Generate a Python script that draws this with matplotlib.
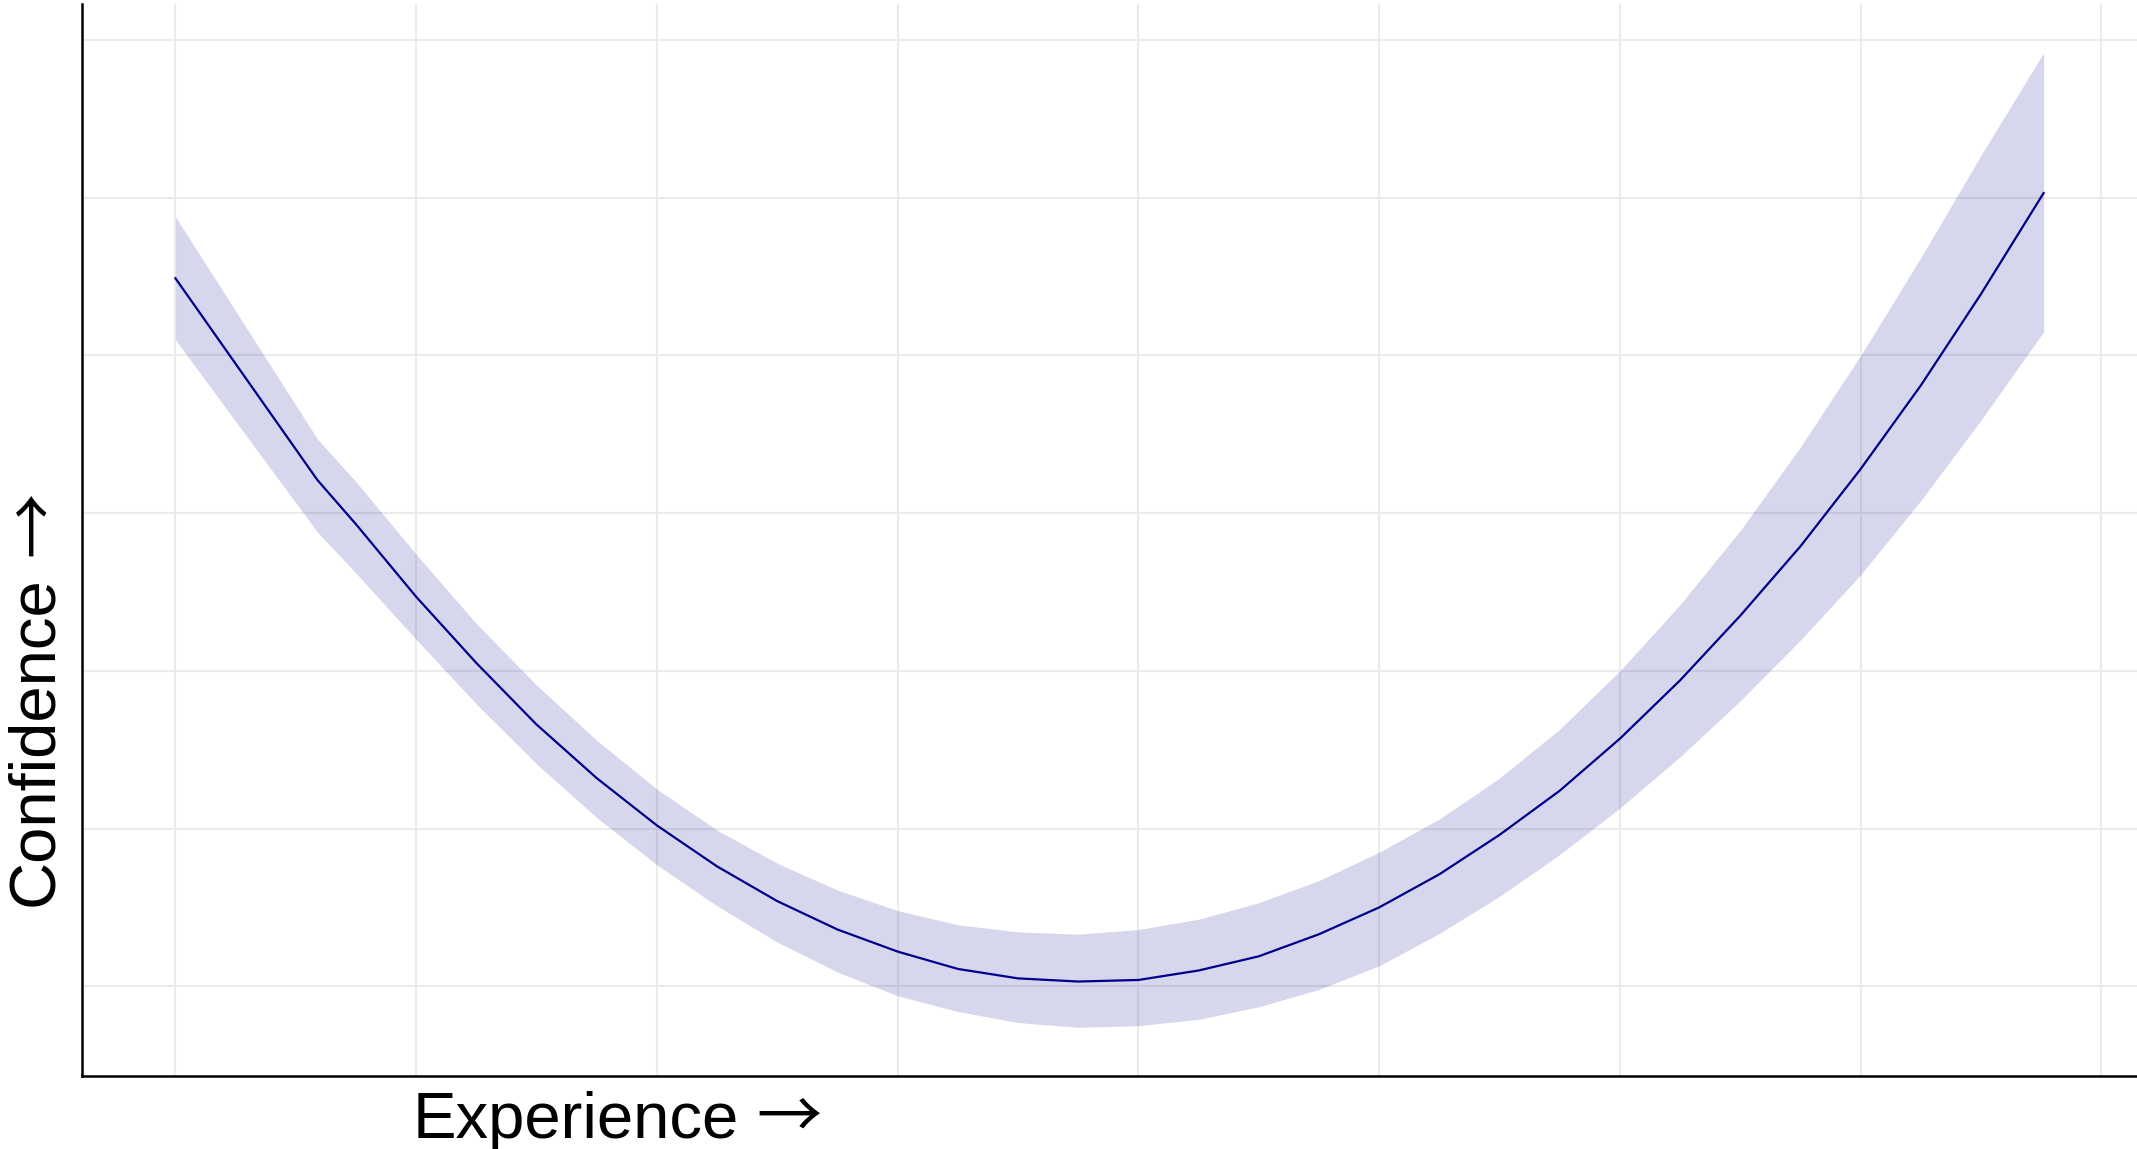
import matplotlib
matplotlib.use("Agg")
import matplotlib.pyplot as plt
import numpy as np

# fitted curve (experience vs confidence) with its confidence band, arbitrary units
exp_x = [0.0, 0.59, 0.75, 1.0, 1.25, 1.5, 1.75, 2.0, 2.25, 2.5, 2.75, 3.0, 3.25, 3.5, 3.75, 4.0,
         4.25, 4.5, 4.75, 5.0, 5.25, 5.5, 5.75, 6.0, 6.25, 6.5, 6.75, 7.0, 7.25, 7.5, 7.76]
conf_fit = [5.49, 4.21, 3.93, 3.47, 3.05, 2.66, 2.32, 2.02, 1.76, 1.54, 1.36, 1.22, 1.11, 1.05, 1.03, 1.04,
            1.10, 1.19, 1.33, 1.50, 1.71, 1.96, 2.24, 2.57, 2.94, 3.35, 3.79, 4.28, 4.81, 5.39, 6.03]
conf_hi = [5.88, 4.47, 4.20, 3.74, 3.30, 2.91, 2.56, 2.25, 1.99, 1.78, 1.61, 1.48, 1.39, 1.345, 1.33, 1.36,
           1.425, 1.53, 1.67, 1.85, 2.06, 2.32, 2.63, 3.00, 3.42, 3.89, 4.42, 5.00, 5.62, 6.27, 6.92]
conf_lo = [5.10, 3.88, 3.62, 3.20, 2.79, 2.41, 2.07, 1.77, 1.51, 1.28, 1.09, 0.94, 0.84, 0.77, 0.74, 0.75,
           0.79, 0.87, 0.98, 1.13, 1.335, 1.57, 1.835, 2.13, 2.455, 2.81, 3.195, 3.61, 4.08, 4.59, 5.15]

x_grid = list(range(0, 9))
y_grid = list(range(1, 8))

plt.rcParams['font.family'] = ['Liberation Sans', 'DejaVu Sans']
ARROW_FONT = ['Noto Sans CJK SC', 'DejaVu Sans']  # full-width arrow

W, H = 2137, 1149
fig = plt.figure(figsize=(W / 100, H / 100), dpi=100)
ax = fig.add_axes([82 / W, 73 / H, 1 - 82 / W, 1072 / H])

ax.fill_between(exp_x, conf_lo, conf_hi, color='darkblue', alpha=0.16, linewidth=0, zorder=2)
ax.plot(exp_x, conf_fit, color='darkblue', linewidth=1.6, zorder=3)

ax.margins(0.05)
ax.set_xticks(x_grid)
ax.set_yticks(y_grid)
ax.set_xticklabels([])
ax.set_yticklabels([])
ax.tick_params(length=0)
ax.grid(True, color='#ebebeb', linewidth=1.5, zorder=0)
ax.set_axisbelow(True)

for side in ['top', 'right']:
    ax.spines[side].set_visible(False)
for side in ['left', 'bottom']:
    ax.spines[side].set_linewidth(1.8)
    ax.spines[side].set_color('black')

# axis titles: word and arrow are separate texts so the arrow can use a wider glyph
fig.text(413 / W, 1 - 1138 / H, 'Experience', fontsize=47,
         ha='left', va='baseline', rotation_mode='anchor')
fig.text(756 / W, 1 - 1138 / H, '\u2192', fontsize=47, family=ARROW_FONT,
         ha='left', va='baseline', rotation_mode='anchor')
fig.text(52 / W, 1 - 906 / H, 'Confidence', fontsize=47, rotation=90,
         ha='left', va='baseline', rotation_mode='anchor')
fig.text(54 / W, 1 - 556 / H, '\u2192', fontsize=47, rotation=90, family=ARROW_FONT,
         ha='left', va='baseline', rotation_mode='anchor')

fig.savefig('out.png', dpi=100)
